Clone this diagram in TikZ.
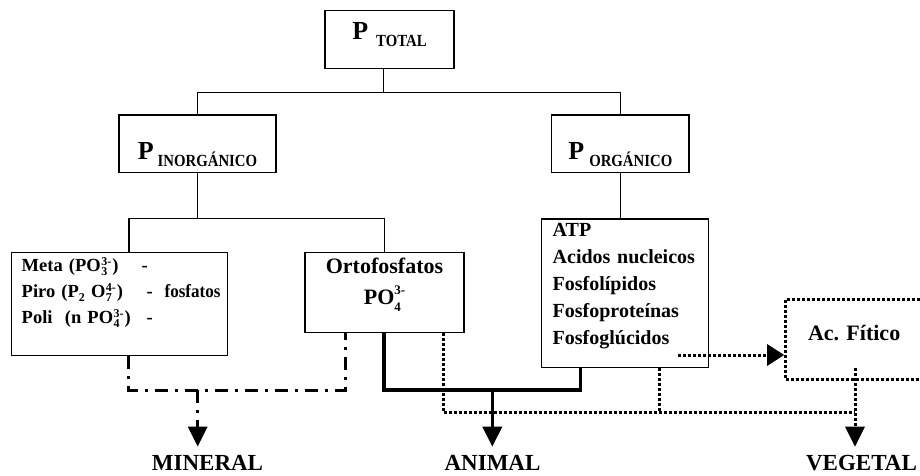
\documentclass[tikz,border=0pt]{standalone}
\usepackage{fontspec}
\setmainfont{Liberation Serif}
\usetikzlibrary{arrows.meta}
\newcommand{\myss}[2]{\hspace{0.5pt}\rlap{\raisebox{-3.5pt}{\fontsize{12}{12}\selectfont #1}}\raisebox{6.5pt}{\fontsize{12}{12}\selectfont #2}\hspace{1pt}}
\newcommand{\mysb}[1]{\raisebox{-3.5pt}{\fontsize{12}{12}\selectfont #1}}
\newcommand{\myP}[2]{{\fontsize{26}{26}\selectfont P}\hspace{#1}\raisebox{-7.4pt}{\fontsize{17}{17}\selectfont\scalebox{0.87}[1]{#2}}}
\begin{document}
\begin{tikzpicture}[x=1pt,y=-1pt,
  box/.style={draw, line width=1.2pt, inner sep=0pt, rectangle, font=\bfseries},
  link/.style={line width=1.2pt},
  heavy/.style={line width=3.5pt, line join=miter},
  dashdot/.style={line width=3pt, dash pattern=on 13pt off 7pt on 3pt off 7pt},
  dots/.style={line width=3pt, dash pattern=on 3pt off 2pt},
  tipdown/.style={-{Triangle[length=20pt,width=19pt]}},
  tipright/.style={-{Triangle[length=17pt,width=21pt]}},
  sink/.style={font=\fontsize{23}{23}\selectfont\bfseries, inner sep=0pt, anchor=base}]
\useasboundingbox (0,0) rectangle (920,475);
\clip (0,0) rectangle (920,475);

% level 0 and 1
\node[box, minimum width=129pt, text height=28.6pt, text depth=29pt] (Ptotal) at (389.5,39.5) {\myP{8pt}{TOTAL}};
\node[box, minimum width=157pt, text height=44.3pt, text depth=13.4pt] (Pinorg) at (197.5,143.85) {\myP{4pt}{INORGÁNICO}};
\node[box, minimum width=137.3pt, text height=44pt, text depth=13.7pt] (Porg) at (620.35,143.85) {\myP{5pt}{ORGÁNICO}};

% level 2
\node[box, text width=196pt, inner xsep=10pt, text height=19.4pt, text depth=84pt, align=left,
      font=\fontsize{18.5}{26}\selectfont\bfseries] (Meta) at (119.7,304) {%
  \makebox[120pt][l]{Meta (PO\myss{3}{3-})}-\\
  \makebox[125pt][l]{Piro (P\mysb{2} O\myss{7}{4-})}\makebox[18pt][l]{-}\scalebox{0.92}[1]{fosfatos}\\
  \makebox[125pt][l]{Poli\ \ (n PO\myss{4}{3-})}-};
\node[box, text width=159pt, inner xsep=0pt, text height=20.8pt, text depth=59.5pt, align=center,
      font=\fontsize{22}{30.7}\selectfont\bfseries] (Orto) at (384.5,292.65) {%
  Ortofosfatos\\PO\rlap{\raisebox{-7.7pt}{\fontsize{13}{13}\selectfont 4}}\raisebox{10pt}{\fontsize{13}{13}\selectfont 3-}};
\node[box, text width=144.6pt, inner xsep=11pt, text height=17pt, text depth=131.7pt, align=left,
      font=\fontsize{20}{27}\selectfont\bfseries] (List) at (625,293.35) {%
  ATP\\Acidos nucleicos\\Fosfolípidos\\Fosfoproteínas\\Fosfoglúcidos};
\node[box, dots, text width=105pt, inner xsep=22.3pt, text height=41pt, text depth=39pt, align=left,
      font=\fontsize{22}{22}\selectfont\bfseries] (Fitico) at (860.5,339) {Ac.\ Fítico};

% sinks
\node[sink] (mineral) at (207.5,470.5) {MINERAL};
\node[sink] (animal) at (492.5,470.5) {ANIMAL};
\node[sink] (vegetal) at (861.5,470.5) {VEGETAL};

% junction coordinates
\coordinate (j0) at (383.7,92.3);
\coordinate (j1) at (197.5,218.3);
\coordinate (jm) at (197.7,390);
\coordinate (ja) at (492.3,390);
\coordinate (jv) at (855,412.7);
\coordinate (tipM) at (197.7,446.7);
\coordinate (tipA) at (492.3,446.7);
\coordinate (tipV) at (855,446.7);
\coordinate (vstart) at (855,368);
\coordinate (fsrc) at (678,355);

% tree connectors
\draw[link] ([xshift=-5.8pt]Ptotal.south) -- (j0);
\draw[link] (Pinorg.north) |- (j0) -| (Porg.north);
\draw[link] (Pinorg.south) -- (j1);
\draw[link] ([xshift=9.3pt]Meta.north) |- (j1) -| (Orto.north);
\draw[link] (Porg.south) -- (Porg.south |- List.north);

% mineral (dash-dot)
\draw[dashdot] ([xshift=8.6pt]Meta.south) |- (jm) -| ([xshift=-39.5pt]Orto.south);
\draw[dashdot, tipdown] (jm) -- (tipM);

% animal (thick)
\draw[heavy] ([xshift=-0.5pt]Orto.south) |- (ja) -| ([xshift=-44.3pt]List.south);
\draw[heavy, tipdown] (ja) -- (tipA);

% vegetal (dotted)
\draw[dots] ([xshift=58.8pt]Orto.south) |- (jv);
\draw[dots] ([xshift=34.3pt]List.south) -- ([xshift=34.3pt]List.south |- jv);
\draw[dots, tipdown] (vstart) -- (tipV);
\draw[dots, tipright] (fsrc) -- (Fitico.west |- fsrc);
\end{tikzpicture}
\end{document}
